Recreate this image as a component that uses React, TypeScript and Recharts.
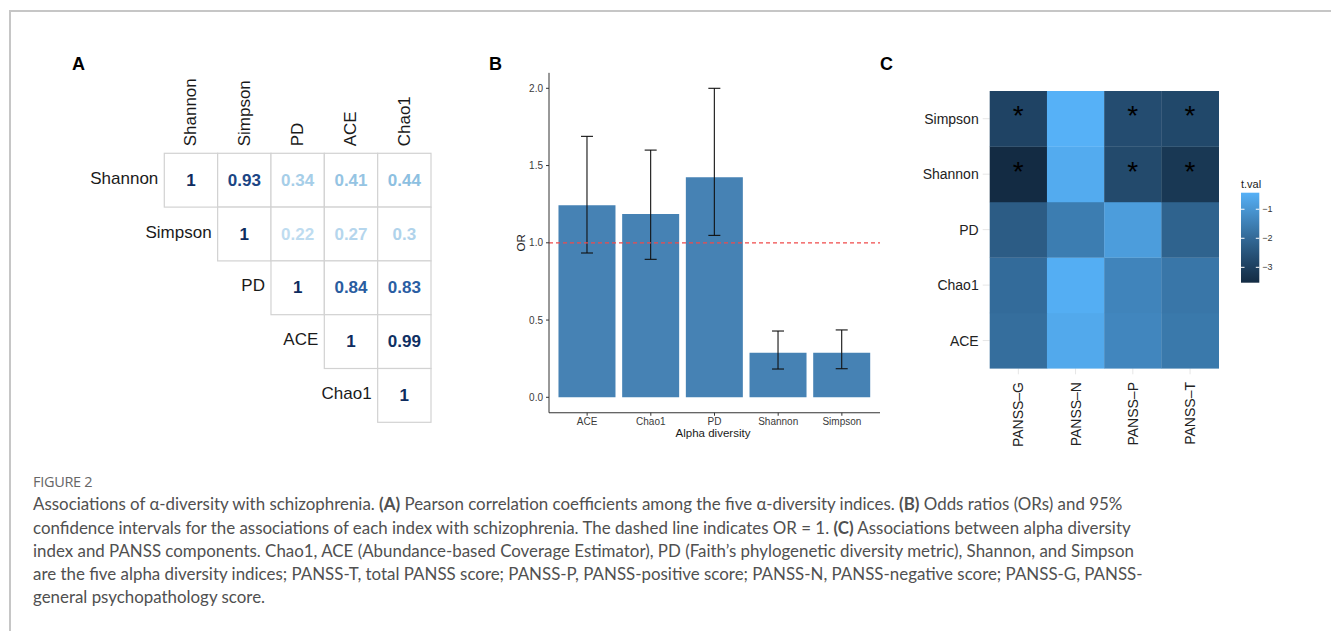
import React from 'react';
import {
  BarChart,
  Bar,
  XAxis,
  YAxis,
  ErrorBar,
  ReferenceLine,
  ScatterChart,
  Scatter,
  Label,
} from 'recharts';

// ---------- Panel A data: Pearson correlations (upper triangle) ----------
const corrLabels = ['Shannon', 'Simpson', 'PD', 'ACE', 'Chao1'];
const corrShannon = [1, 0.93, 0.34, 0.41, 0.44];
const corrSimpson = [1, 0.22, 0.27, 0.3];
const corrPD = [1, 0.84, 0.83];
const corrACE = [1, 0.99];
const corrChao1 = [1];
const corrRows = [corrShannon, corrSimpson, corrPD, corrACE, corrChao1];

// ---------- Panel B data: odds ratios with 95% CI ----------
const orCategories = ['ACE', 'Chao1', 'PD', 'Shannon', 'Simpson'];
const orValues = [1.243, 1.186, 1.424, 0.289, 0.289];
const orLower = [0.934, 0.893, 1.048, 0.183, 0.185];
const orUpper = [1.689, 1.6, 2.0, 0.429, 0.436];
const orTicks = [0, 0.5, 1, 1.5, 2];

// ---------- Panel C data: t values (rows bottom -> top) ----------
const heatRows = ['ACE', 'Chao1', 'PD', 'Shannon', 'Simpson'];
const heatCols = ['PANSS–G', 'PANSS–N', 'PANSS–P', 'PANSS–T'];
const tvalACE = [-1.9, -0.6, -1.35, -1.65];
const tvalChao1 = [-1.95, -0.5, -1.4, -1.7];
const tvalPD = [-2.3, -1.55, -0.85, -2.15];
const tvalShannon = [-3.53, -0.55, -2.75, -3.2];
const tvalSimpson = [-2.91, -0.43, -2.69, -2.8];
const sigACE = [false, false, false, false];
const sigChao1 = [false, false, false, false];
const sigPD = [false, false, false, false];
const sigShannon = [true, false, true, true];
const sigSimpson = [true, false, true, true];
const legendTicks = [-1, -2, -3];

const tvalRows = [tvalACE, tvalChao1, tvalPD, tvalShannon, tvalSimpson];
const sigRows = [sigACE, sigChao1, sigPD, sigShannon, sigSimpson];

// ---------- colour helpers ----------
const hexToRgb = (h: string) => [
  parseInt(h.slice(1, 3), 16),
  parseInt(h.slice(3, 5), 16),
  parseInt(h.slice(5, 7), 16),
];
const toLin = (c: number) => {
  c = c / 255;
  return c <= 0.04045 ? c / 12.92 : Math.pow((c + 0.055) / 1.055, 2.4);
};
const fromLin = (c: number) => {
  const v = c <= 0.0031308 ? 12.92 * c : 1.055 * Math.pow(c, 1 / 2.4) - 0.055;
  return Math.max(0, Math.min(255, Math.round(v * 255)));
};
const Xn = 0.95047, Yn = 1, Zn = 1.08883;
const fLab = (t: number) => (t > 0.008856 ? Math.cbrt(t) : 7.787 * t + 16 / 116);
const fInv = (t: number) => (t * t * t > 0.008856 ? t * t * t : (t - 16 / 116) / 7.787);
const hexToLab = (h: string) => {
  const [r0, g0, b0] = hexToRgb(h);
  const r = toLin(r0), g = toLin(g0), b = toLin(b0);
  const X = (0.4124 * r + 0.3576 * g + 0.1805 * b) / Xn;
  const Y = (0.2126 * r + 0.7152 * g + 0.0722 * b) / Yn;
  const Z = (0.0193 * r + 0.1192 * g + 0.9505 * b) / Zn;
  const fx = fLab(X), fy = fLab(Y), fz = fLab(Z);
  return [116 * fy - 16, 500 * (fx - fy), 200 * (fy - fz)];
};
const labToHex = (L: number, a: number, bb: number) => {
  const fy = (L + 16) / 116;
  const fx = fy + a / 500;
  const fz = fy - bb / 200;
  const X = Xn * fInv(fx), Y = Yn * fInv(fy), Z = Zn * fInv(fz);
  const r = 3.2406 * X - 1.5372 * Y - 0.4986 * Z;
  const g = -0.9689 * X + 1.8758 * Y + 0.0415 * Z;
  const b = 0.0557 * X - 0.204 * Y + 1.057 * Z;
  const hx = (v: number) => fromLin(v).toString(16).padStart(2, '0');
  return '#' + hx(r) + hx(g) + hx(b);
};
const LOW = hexToLab('#132B43');
const HIGH = hexToLab('#56B1F7');
const allT = tvalRows.flat();
const tMin = Math.min(...allT);
const tMax = Math.max(...allT);
const heatColor = (v: number) => {
  const t = (v - tMin) / (tMax - tMin);
  return labToHex(
    LOW[0] + (HIGH[0] - LOW[0]) * t,
    LOW[1] + (HIGH[1] - LOW[1]) * t,
    LOW[2] + (HIGH[2] - LOW[2]) * t
  );
};

const corrStops: [number, string][] = [
  [0.2, '#c2def1'],
  [0.3, '#b0d3eb'],
  [0.45, '#8bbfe0'],
  [0.83, '#2a5ea3'],
  [0.93, '#1b4584'],
  [1.0, '#0e2c5e'],
];
const mix = (c1: string, c2: string, t: number) => {
  const a = hexToRgb(c1), b = hexToRgb(c2);
  return (
    '#' +
    a
      .map((v, i) => Math.round(v + (b[i] - v) * t).toString(16).padStart(2, '0'))
      .join('')
  );
};
const corrColor = (v: number) => {
  for (let i = 0; i < corrStops.length - 1; i++) {
    const [v0, c0] = corrStops[i];
    const [v1, c1] = corrStops[i + 1];
    if (v <= v1) return mix(c0, c1, Math.max(0, (v - v0) / (v1 - v0)));
  }
  return corrStops[corrStops.length - 1][1];
};

// ---------- derived tables ----------
const corrData = corrRows.flatMap((row, i) =>
  row.map((v, k) => ({ col: i + k, row: i, v, diag: k === 0, label: corrLabels[i] }))
);

const orData = orCategories.map((name, i) => ({
  name,
  or: orValues[i],
  err: [orValues[i] - orLower[i], orUpper[i] - orValues[i]],
}));

const heatData = tvalRows.flatMap((row, r) =>
  row.map((v, c) => ({ col: c, row: r, v, sig: sigRows[r][c] }))
);

const FONT = '"Liberation Sans", Arial, Helvetica, sans-serif';

// ---------- Panel A geometry ----------
const A_W = 390, A_H = 380;
const A_M = { top: 0, right: 19, bottom: 7.7, left: 104.3 };
const A_TOPAXIS = 103.3;
const A_CELL_W = (A_W - A_M.left - A_M.right) / 5;
const A_CELL_H = (A_H - A_M.top - A_TOPAXIS - A_M.bottom) / 5;

const CorrCell = (props: any) => {
  const { cx, cy, payload } = props;
  if (cx == null || cy == null) return null;
  return (
    <g>
      <rect
        x={cx - A_CELL_W / 2}
        y={cy - A_CELL_H / 2}
        width={A_CELL_W}
        height={A_CELL_H}
        fill="#fff"
        stroke="#d2d2d2"
        strokeWidth={1.2}
      />
      <text
        x={cx}
        y={cy}
        textAnchor="middle"
        dominantBaseline="central"
        fontSize={17}
        fontWeight="bold"
        fontFamily={FONT}
        fill={corrColor(payload.v)}
      >
        {String(payload.v)}
      </text>
      {payload.diag && (
        <text
          x={cx - A_CELL_W / 2 - 6}
          y={cy - 2}
          textAnchor="end"
          dominantBaseline="central"
          fontSize={17}
          fontFamily={FONT}
          fill="#1a1a1a"
        >
          {payload.label}
        </text>
      )}
    </g>
  );
};

const CorrTopTick = (props: any) => {
  const { x, y, payload } = props;
  return (
    <text
      x={x}
      y={y}
      transform={`rotate(-90 ${x} ${y})`}
      textAnchor="start"
      dominantBaseline="central"
      fontSize={17}
      fontFamily={FONT}
      fill="#1a1a1a"
    >
      {corrLabels[payload.value]}
    </text>
  );
};

// ---------- Panel C geometry ----------
const C_W = 451, C_H = 400;
const C_M = { top: 41, right: 112.3, bottom: 6.7, left: 9.7 };
const C_YAXIS_W = 100;
const C_XAXIS_H = 75;
const C_CELL_W = (C_W - C_M.left - C_M.right - C_YAXIS_W) / 4;
const C_CELL_H = (C_H - C_M.top - C_M.bottom - C_XAXIS_H) / 5;

const HeatCell = (props: any) => {
  const { cx, cy, payload } = props;
  if (cx == null || cy == null) return null;
  return (
    <g>
      <rect
        x={cx - C_CELL_W / 2}
        y={cy - C_CELL_H / 2}
        width={C_CELL_W + 0.3}
        height={C_CELL_H + 0.3}
        fill={heatColor(payload.v)}
      />
      {payload.sig && (
        <text
          x={cx}
          y={cy - 3}
          textAnchor="middle"
          dominantBaseline="central"
          fontSize={28}
          fontFamily={FONT}
          fill="#000"
        >
          *
        </text>
      )}
    </g>
  );
};

const HeatBottomTick = (props: any) => {
  const { x, y, payload } = props;
  return (
    <text
      x={x}
      y={y}
      transform={`rotate(-90 ${x} ${y})`}
      textAnchor="end"
      dominantBaseline="central"
      fontSize={14}
      fontFamily={FONT}
      fill="#222"
    >
      {heatCols[payload.value]}
    </text>
  );
};

// legend geometry
const LEG_X = 1241, LEG_Y = 192.7, LEG_W = 18.3, LEG_H = 90;
const legY = (v: number) => LEG_Y + ((tMax - v) / (tMax - tMin)) * LEG_H;
const gradStops = Array.from({ length: 11 }, (_, i) => {
  const v = tMax - ((tMax - tMin) * i) / 10;
  return { off: i * 10, color: heatColor(v) };
});

const panelLetter = (t: string, left: number) => (
  <div
    style={{
      position: 'absolute',
      left,
      top: 54,
      fontSize: 18,
      fontWeight: 'bold',
      fontFamily: FONT,
      color: '#000',
      lineHeight: '20px',
    }}
  >
    {t}
  </div>
);

const captionLines: React.ReactNode[] = [
  <>
    Associations of α-diversity with schizophrenia. <b>(A)</b> Pearson correlation coefficients among
    the five α-diversity indices. <b>(B)</b> Odds ratios (ORs) and 95%
  </>,
  <>
    confidence intervals for the associations of each index with schizophrenia. The dashed line
    indicates OR = 1. <b>(C)</b> Associations between alpha diversity
  </>,
  <>
    index and PANSS components. Chao1, ACE (Abundance-based Coverage Estimator), PD (Faith’s
    phylogenetic diversity metric), Shannon, and Simpson
  </>,
  <>
    are the five alpha diversity indices; PANSS-T, total PANSS score; PANSS-P, PANSS-positive score;
    PANSS-N, PANSS-negative score; PANSS-G, PANSS-
  </>,
  <>general psychopathology score.</>,
];

export default function App() {
  return (
    <div
      style={{
        position: 'fixed',
        left: 0,
        top: 0,
        width: 1331,
        height: 631,
        background: '#fff',
        overflow: 'hidden',
        fontFamily: FONT,
      }}
    >
      {/* frame */}
      <div
        style={{
          position: 'absolute',
          left: 9,
          top: 10,
          width: 1330,
          height: 630,
          borderTop: '2px solid #c6c6c6',
          borderLeft: '2px solid #c6c6c6',
        }}
      />

      {panelLetter('A', 72)}
      {panelLetter('B', 489)}
      {panelLetter('C', 880)}

      {/* Panel A */}
      <div style={{ position: 'absolute', left: 60, top: 50 }}>
        <ScatterChart width={A_W} height={A_H} margin={A_M}>
          <XAxis
            type="number"
            dataKey="col"
            orientation="top"
            domain={[-0.5, 4.5]}
            ticks={[0, 1, 2, 3, 4]}
            height={A_TOPAXIS}
            axisLine={false}
            tickLine={false}
            tickSize={0}
            tickMargin={7}
            tick={<CorrTopTick />}
            interval={0}
          />
          <YAxis type="number" dataKey="row" domain={[-0.5, 4.5]} reversed hide />
          <Scatter data={corrData} shape={(p: any) => <CorrCell {...p} />} isAnimationActive={false} />
        </ScatterChart>
      </div>

      {/* Panel B */}
      <div style={{ position: 'absolute', left: 480, top: 50 }}>
        <BarChart
          width={420}
          height={400}
          data={orData}
          margin={{ top: 22.85, right: 20, bottom: 7.25, left: 0 }}
          barCategoryGap="5%"
        >
          <XAxis
            dataKey="name"
            type="category"
            height={30}
            padding={{ left: 6.3, right: 6.3 }}
            tickSize={3}
            tickMargin={2}
            stroke="#333"
            tickLine={{ stroke: '#333' }}
            tick={{ fontSize: 10, fill: '#3a3a3a', fontFamily: FONT }}
            interval={0}
          >
            <Label
              content={() => (
                <text
                  x={233}
                  y={387}
                  textAnchor="middle"
                  fontSize={11.5}
                  fontFamily={FONT}
                  fill="#1a1a1a"
                >
                  Alpha diversity
                </text>
              )}
            />
          </XAxis>
          <YAxis
            type="number"
            width={69}
            domain={[-0.1, 2.1]}
            ticks={orTicks}
            allowDataOverflow
            tickFormatter={(v: number) => v.toFixed(1)}
            tickSize={3}
            tickMargin={3}
            stroke="#333"
            tickLine={{ stroke: '#333' }}
            tick={{ fontSize: 10, fill: '#3a3a3a', fontFamily: FONT }}
          >
            <Label
              content={() => (
                <text
                  x={45.5}
                  y={192.8}
                  transform="rotate(-90 45.5 192.8)"
                  textAnchor="middle"
                  fontSize={11.5}
                  fontFamily={FONT}
                  fill="#1a1a1a"
                >
                  OR
                </text>
              )}
            />
          </YAxis>
          <Bar dataKey="or" fill="#4682B4" isAnimationActive={false}>
            <ErrorBar
              dataKey="err"
              direction="y"
              width={6}
              stroke="#111"
              strokeWidth={1.1}
              isAnimationActive={false}
            />
          </Bar>
          <ReferenceLine y={1} stroke="#f04a4a" strokeDasharray="4 3" strokeWidth={1.2} />
        </BarChart>
      </div>

      {/* Panel C */}
      <div style={{ position: 'absolute', left: 880, top: 50 }}>
        <ScatterChart width={C_W} height={C_H} margin={C_M}>
          <XAxis
            type="number"
            dataKey="col"
            domain={[-0.5, 3.5]}
            ticks={[0, 1, 2, 3]}
            height={C_XAXIS_H}
            axisLine={false}
            tickSize={6}
            tickMargin={7.7}
            tickLine={{ stroke: '#e6e6e6' }}
            tick={<HeatBottomTick />}
            interval={0}
          />
          <YAxis
            type="number"
            dataKey="row"
            domain={[-0.5, 4.5]}
            ticks={[0, 1, 2, 3, 4]}
            width={C_YAXIS_W}
            axisLine={false}
            tickSize={7}
            tickMargin={4}
            tickLine={{ stroke: '#e6e6e6' }}
            tickFormatter={(v: number) => heatRows[v]}
            tick={{ fontSize: 14, fill: '#222', fontFamily: FONT }}
            interval={0}
          />
          <Scatter data={heatData} shape={(p: any) => <HeatCell {...p} />} isAnimationActive={false} />
        </ScatterChart>
      </div>

      {/* Panel C legend */}
      <svg
        style={{ position: 'absolute', left: 0, top: 0 }}
        width={1331}
        height={631}
        pointerEvents="none"
      >
        <defs>
          <linearGradient id="tvalGrad" x1="0" y1="0" x2="0" y2="1">
            {gradStops.map((s) => (
              <stop key={s.off} offset={`${s.off}%`} stopColor={s.color} />
            ))}
          </linearGradient>
        </defs>
        <text x={LEG_X} y={187.5} fontSize={11} fontFamily={FONT} fill="#1a1a1a">
          t.val
        </text>
        <rect x={LEG_X} y={LEG_Y} width={LEG_W} height={LEG_H} fill="url(#tvalGrad)" />
        {legendTicks.map((t) => (
          <g key={t}>
            <line x1={LEG_X} x2={LEG_X + 3.5} y1={legY(t)} y2={legY(t)} stroke="#fff" strokeWidth={1} />
            <line
              x1={LEG_X + LEG_W - 3.5}
              x2={LEG_X + LEG_W}
              y1={legY(t)}
              y2={legY(t)}
              stroke="#fff"
              strokeWidth={1}
            />
            <text
              x={LEG_X + LEG_W + 3}
              y={legY(t)}
              dominantBaseline="central"
              fontSize={9}
              fontFamily={FONT}
              fill="#333"
            >
              {'−' + Math.abs(t)}
            </text>
          </g>
        ))}
      </svg>

      {/* Caption */}
      <div
        style={{
          position: 'absolute',
          left: 33,
          top: 473,
          fontFamily: '"Open Sans", sans-serif',
          fontSize: 14.5,
          lineHeight: '17px',
          color: '#666',
          letterSpacing: -0.3,
        }}
      >
        FIGURE 2
      </div>
      <div
        style={{
          position: 'absolute',
          left: 33,
          top: 492.3,
          fontFamily: 'Lato, sans-serif',
          fontSize: 16.9,
          lineHeight: '23.3px',
          color: '#505050',
        }}
      >
        {captionLines.map((l, i) => (
          <div key={i} style={{ whiteSpace: 'nowrap' }}>
            {l}
          </div>
        ))}
      </div>
    </div>
  );
}
